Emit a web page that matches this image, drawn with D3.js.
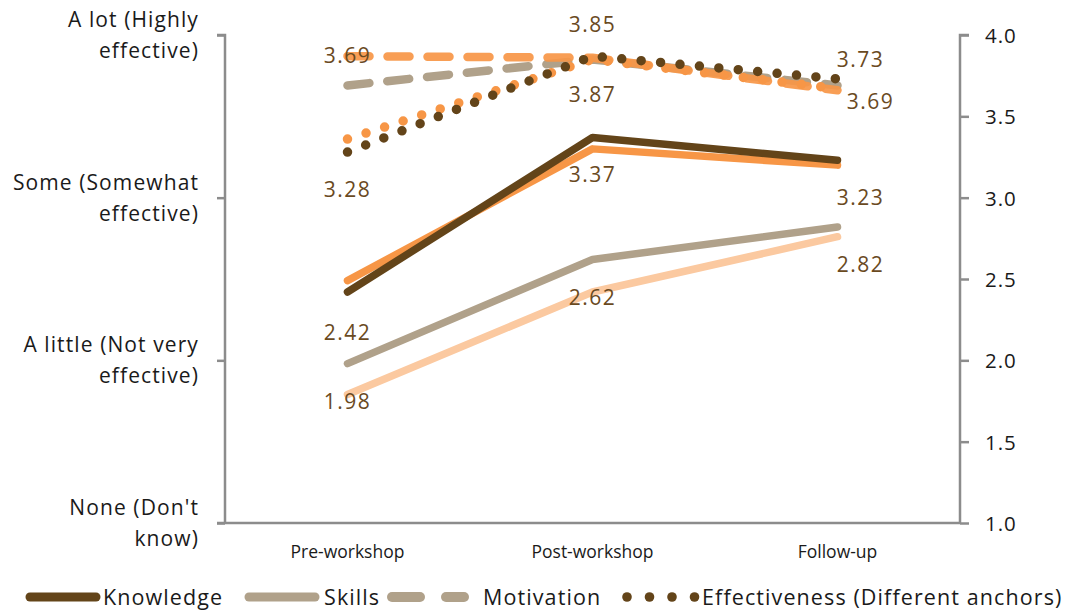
<!DOCTYPE html>
<html>
<head>
<meta charset="utf-8">
<script src="https://cdn.jsdelivr.net/npm/d3@7"></script>
<style>
  html, body { margin: 0; padding: 0; background: #fff; }
  svg text { font-family: "Open Sans", "DejaVu Sans", sans-serif; }
</style>
</head>
<body>
<svg id="chart" width="1065" height="613"></svg>
<script>
// Survey time points
const categories = ["Pre-workshop", "Post-workshop", "Follow-up"];

// Mean ratings (1 = None, 4 = A lot)
const knowledge      = [2.42, 3.37, 3.23];
const skills         = [1.98, 2.62, 2.82];
const motivation     = [3.69, 3.85, 3.69];
const effectiveness  = [3.28, 3.87, 3.73];

// Comparison group (unlabelled)
const knowledgeB     = [2.49, 3.30, 3.20];
const skillsB        = [1.79, 2.42, 2.76];
const motivationB    = [3.87, 3.86, 3.66];
const effectivenessB = [3.36, 3.85, 3.67];

// Axis labels
const leftTickLabels = [
  ["None (Don't", "know)"],
  ["A little (Not very", "effective)"],
  ["Some (Somewhat", "effective)"],
  ["A lot (Highly", "effective)"]
];
const leftTickValues  = [1, 2, 3, 4];
const rightTickValues = [1.0, 1.5, 2.0, 2.5, 3.0, 3.5, 4.0];

const legendNames = ["Knowledge", "Skills", "Motivation", "Effectiveness (Different anchors)"];

// ---- drawing ----
const svg = d3.select("#chart");
const plot = { left: 225, right: 960, top: 35, bottom: 523 };

const x = d3.scaleBand().domain(categories).range([plot.left, plot.right]);
const y = d3.scaleLinear().domain([1, 4]).range([plot.bottom, plot.top]);
const cx = c => x(c) + x.bandwidth() / 2;

const C = {
  brown: "#634419",
  tan: "#B0A18A",
  orange: "#F79646",
  peach: "#FBC9A0",
  axis: "#8C8C8C",
  label: "#6A4A1F"
};

const styles = {
  solid:  { width: 7.5, dash: null, cap: "round" },
  dashed: { width: 8.5, dash: "22 18", cap: "round" },
  dotted: { width: 9.5, dash: "0 19.5", cap: "round" }
};

const line = d3.line().x((d, i) => cx(categories[i])).y(d => y(d));

// axes
const axisG = svg.append("g");
const leftAxis = d3.axisLeft(y).tickValues(leftTickValues).tickSize(8).tickFormat("");
const gl = axisG.append("g").attr("transform", `translate(${plot.left},0)`).call(leftAxis);
const rightAxis = d3.axisRight(y).tickValues(rightTickValues).tickSize(9).tickFormat("");
const gr = axisG.append("g").attr("transform", `translate(${plot.right},0)`).call(rightAxis);
[gl, gr].forEach(g => {
  g.select(".domain").attr("stroke", C.axis).attr("stroke-width", 2.5)
    .attr("d", g === gl ? `M-8,${plot.top}H0V${plot.bottom}` : `M9,${plot.top}H0V${plot.bottom}`);
  g.selectAll(".tick line").attr("stroke", C.axis).attr("stroke-width", 2.5);
});
const bottomAxis = d3.axisBottom(x).tickSize(0).tickFormat("");
const gb = axisG.append("g").attr("transform", `translate(0,${plot.bottom})`).call(bottomAxis);
gb.select(".domain").attr("stroke", C.axis).attr("stroke-width", 2.5)
  .attr("d", `M${plot.left - 8},0H${plot.right}`);

// left tick labels (two lines each)
leftTickValues.forEach((v, i) => {
  const t = svg.append("text").attr("text-anchor", "end")
    .attr("font-size", 21).attr("letter-spacing", 1.1).attr("fill", "#1a1a1a");
  t.append("tspan").attr("x", 199).attr("y", y(v) - 8).text(leftTickLabels[i][0]);
  t.append("tspan").attr("x", 199).attr("y", y(v) + 23).text(leftTickLabels[i][1]);
});

// right tick labels
rightTickValues.forEach(v => {
  svg.append("text").attr("x", 985).attr("y", y(v) + 8)
    .attr("font-size", 20.5).attr("letter-spacing", 1).attr("fill", "#1a1a1a")
    .text(d3.format(".1f")(v));
});

// category labels
categories.forEach(c => {
  svg.append("text").attr("x", cx(c)).attr("y", 558).attr("text-anchor", "middle")
    .attr("font-size", 17.5).attr("fill", "#1a1a1a").text(c);
});

// series
const series = [
  { vals: skillsB,        color: C.peach,  style: "solid" },
  { vals: skills,         color: C.tan,    style: "solid" },
  { vals: knowledgeB,     color: C.orange, style: "solid" },
  { vals: knowledge,      color: C.brown,  style: "solid" },
  { vals: motivation,     color: C.tan,    style: "dashed" },
  { vals: motivationB,    color: C.orange, style: "dashed", opacity: 0.92 },
  { vals: effectivenessB, color: C.orange, style: "dotted" },
  { vals: effectiveness,  color: C.brown,  style: "dotted" }
];

series.forEach(s => {
  const st = styles[s.style];
  svg.append("path").datum(s.vals)
    .attr("d", line).attr("fill", "none")
    .attr("stroke", s.color).attr("stroke-width", st.width)
    .attr("stroke-linecap", st.cap).attr("stroke-linejoin", "round")
    .attr("stroke-dasharray", st.dash)
    .attr("opacity", s.opacity || 1);
});

// value labels: [dx, dy] offsets from each point
const labelSets = [
  { vals: knowledge,     pos: [[0, 48], [0, 45], [23, 45]] },
  { vals: skills,        pos: [[0, 45], [0, 46], [23, 45]] },
  { vals: motivation,    pos: [[0, -22], [0, -27], [33, 24]] },
  { vals: effectiveness, pos: [[0, 45], [0, 46], [23, -12]] }
];
labelSets.forEach(ls => {
  ls.vals.forEach((v, i) => {
    svg.append("text")
      .attr("x", cx(categories[i]) + ls.pos[i][0])
      .attr("y", y(v) + ls.pos[i][1])
      .attr("text-anchor", "middle")
      .attr("font-size", 21).attr("letter-spacing", 1.5)
      .attr("fill", C.label)
      .text(d3.format(".2f")(v));
  });
});

// legend
const legend = [
  { name: legendNames[0], color: C.brown, style: "solid",  sx: 26,  tx: 103 },
  { name: legendNames[1], color: C.tan,   style: "solid",  sx: 245, tx: 324 },
  { name: legendNames[2], color: C.tan,   style: "dashed", sx: 388, tx: 483 },
  { name: legendNames[3], color: C.brown, style: "dotted", sx: 627, tx: 702 }
];
const ly = 597;
legend.forEach(l => {
  const g = svg.append("g");
  if (l.style === "solid") {
    g.append("line").attr("x1", l.sx + 4).attr("x2", l.sx + 70).attr("y1", ly).attr("y2", ly)
      .attr("stroke", l.color).attr("stroke-width", 9).attr("stroke-linecap", "round");
  } else if (l.style === "dashed") {
    [[4, 32], [58, 76]].forEach(([a, b]) => {
      g.append("line").attr("x1", l.sx + a).attr("x2", l.sx + b)
        .attr("y1", ly).attr("y2", ly)
        .attr("stroke", l.color).attr("stroke-width", 10).attr("stroke-linecap", "round");
    });
  } else {
    [0, 1, 2, 3].forEach(k => {
      g.append("circle").attr("cx", l.sx + k * 22.5).attr("cy", ly).attr("r", 4.8).attr("fill", l.color);
    });
  }
  g.append("text").attr("x", l.tx).attr("y", ly + 8)
    .attr("font-size", 21.5).attr("letter-spacing", 1.1).attr("fill", "#1a1a1a").text(l.name);
});
</script>
</body>
</html>
